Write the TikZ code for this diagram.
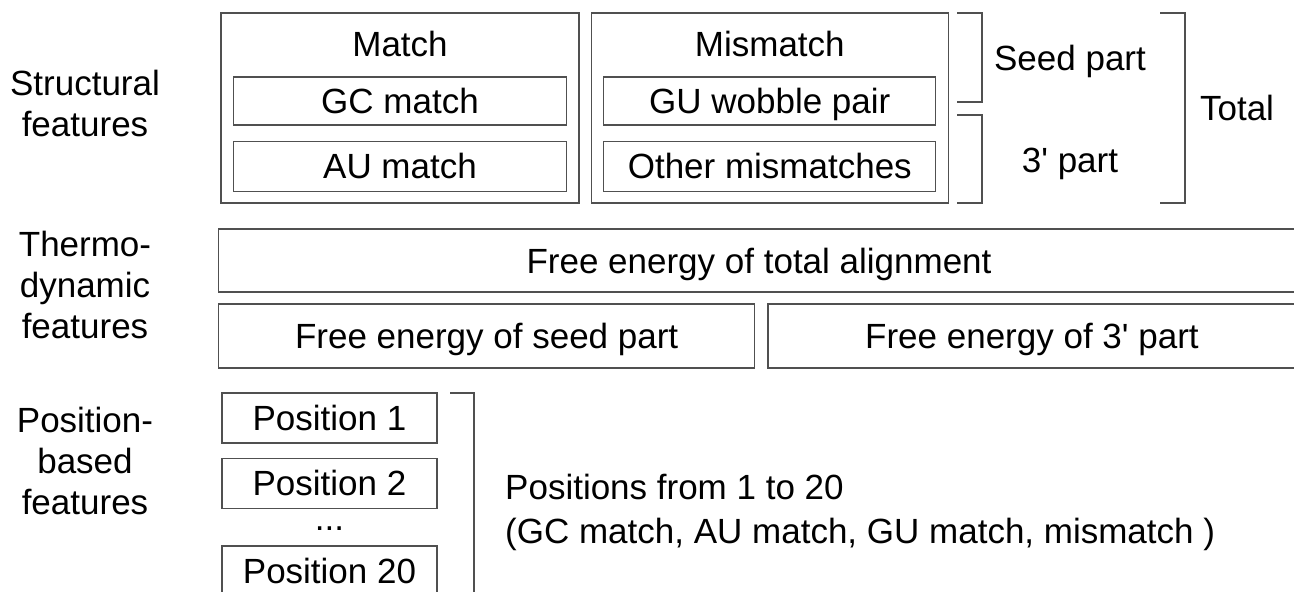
\documentclass[tikz,border=0pt]{standalone}
\usepackage{fontspec}
\setmainfont{Liberation Sans}
\usepackage{tikz}
\usetikzlibrary{positioning}
\definecolor{LineGray}{RGB}{80,80,80}
\tikzstyle{box} = [draw=LineGray, line width=1.3pt, inner sep=0pt, text height=25pt, text depth=0pt]
\tikzstyle{txt} = [inner sep=0pt, text height=25pt, text depth=0pt]
\tikzstyle{brk} = [LineGray, line width=1.3pt]
\tikzstyle{side} = [align=center, inner sep=0pt]

\begin{document}
\begin{tikzpicture}[x=1pt, y=-1pt, font=\fontsize{35}{41}\selectfont]
    \clip (0,0) rectangle (1294,592);

    % structural features
    \node[side] (structlbl) at (85,103) {Structural\\features};
    \node[box, minimum width=358, minimum height=190] (matchbox) at (400,108) {};
    \node[txt] (matchtitle) at (400,44) {Match};
    \node[box, minimum width=333, minimum height=48] (gcmatch) at (400,101) {GC match};
    \node[box, minimum width=333, minimum height=50, below=15pt of gcmatch] (aumatch) {AU match};
    \node[box, minimum width=357, minimum height=190, right=11pt of matchbox] (mismatchbox) {};
    \node[txt] (mismatchtitle) at (mismatchbox.center |- matchtitle) {Mismatch};
    \node[box, minimum width=332, minimum height=48] (guwobble) at (mismatchbox.center |- gcmatch) {GU wobble pair};
    \node[box, minimum width=332, minimum height=50] (othermm) at (mismatchbox.center |- aumatch) {Other mismatches};

    \draw[brk] (957,13) -- (982,13) -- (982,102) -- (957,102);
    \draw[brk] (957,115) -- (982,115) -- (982,203) -- (957,203);
    \draw[brk] (1160,13) -- (1185,13) -- (1185,203) -- (1160,203);
    \node[txt] (seedlbl) at (1070,58) {Seed part};
    \node[txt] (threelbl) at (1070,160) {3\textquotesingle{} part};
    \node[txt] (totallbl) at (1237,108) {Total};

    % thermodynamic features
    \node[side] (thermolbl) at (85,285) {Thermo-\\dynamic\\features};
    \node[box, minimum width=1100, minimum height=63, anchor=west] (totalfe) at (218,260.5) {};
    \node[txt] (totalfetxt) at (759,260.5) {Free energy of total alignment};
    \node[box, minimum width=536, minimum height=64, anchor=west] (seedfe) at (218,336) {Free energy of seed part};
    \node[box, minimum width=528, minimum height=64, right=12pt of seedfe] (threefe) {Free energy of 3\textquotesingle{} part};

    % position-based features
    \node[side] (poslbl) at (85,461) {Position-\\based\\features};
    \node[box, minimum width=215, minimum height=50] (pos1) at (329.5,418) {Position 1};
    \node[box, minimum width=215, minimum height=50, below=14pt of pos1] (pos2) {Position 2};
    \node[inner sep=0pt, anchor=base] (posdots) at (329.5,530) {...};
    \node[box, minimum width=215, minimum height=50] (pos20) at (329.5,571) {Position 20};
    \draw[brk] (450,393) -- (474,393) -- (474,600);
    \node[side, align=left, anchor=west, font=\fontsize{35}{44}\selectfont] (posdesc) at (505,512) {Positions from 1 to 20\\(GC match, AU match, GU match, mismatch )};
\end{tikzpicture}
\end{document}
